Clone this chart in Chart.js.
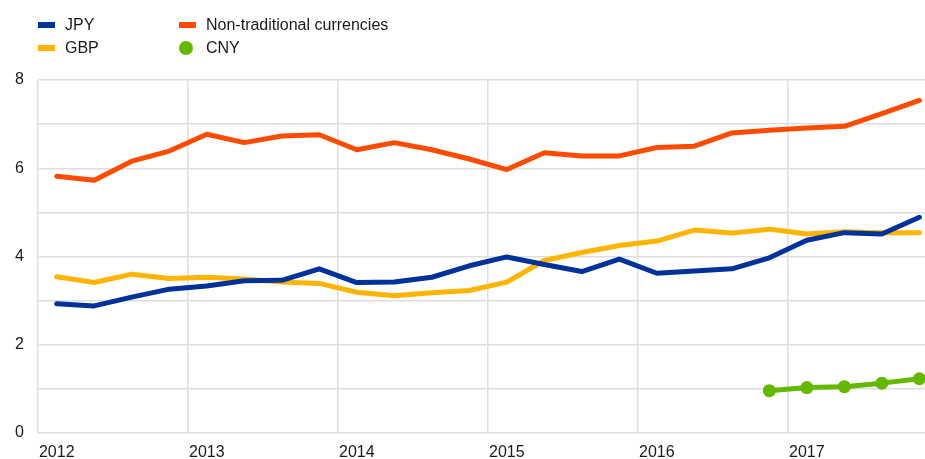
<!DOCTYPE html>
<html>
<head>
<meta charset="utf-8">
<script src="https://cdn.jsdelivr.net/npm/chart.js@4/dist/chart.umd.min.js"></script>
<style>
  html, body { margin: 0; padding: 0; background: #fff; overflow: hidden; }
  #wrap { position: relative; width: 925px; height: 459px; }
  canvas { position: absolute; left: 0; top: 0; }
  .lg { position: absolute; font-family: "Liberation Sans", Arial, sans-serif; font-size: 16px; line-height: 16px; color: #1a1a1a; white-space: nowrap; }
  .sw { position: absolute; width: 17px; height: 6px; }
  .dot { position: absolute; width: 14px; height: 14px; border-radius: 50%; }
</style>
</head>
<body>
<div id="wrap">
  <canvas id="c" width="925" height="459"></canvas>
  <div class="sw" style="left:38px;top:21.5px;background:#003299"></div>
  <div class="lg" style="left:65px;top:16.7px">JPY</div>
  <div class="sw" style="left:38px;top:44.5px;background:#FFB400"></div>
  <div class="lg" style="left:65px;top:39.7px">GBP</div>
  <div class="sw" style="left:179px;top:21.5px;background:#FF4B00"></div>
  <div class="lg" style="left:206px;top:16.7px">Non-traditional currencies</div>
  <div class="dot" style="left:179px;top:40.5px;background:#65B800"></div>
  <div class="lg" style="left:206px;top:39.7px">CNY</div>
</div>
<script>
// Quarterly categories 2012 Q1 – 2017 Q4
const quarters = [
  '2012 Q1','2012 Q2','2012 Q3','2012 Q4',
  '2013 Q1','2013 Q2','2013 Q3','2013 Q4',
  '2014 Q1','2014 Q2','2014 Q3','2014 Q4',
  '2015 Q1','2015 Q2','2015 Q3','2015 Q4',
  '2016 Q1','2016 Q2','2016 Q3','2016 Q4',
  '2017 Q1','2017 Q2','2017 Q3','2017 Q4'
];
const yearLabels = ['2012','2013','2014','2015','2016','2017'];
const yTickLabels = ['0','2','4','6','8'];

const jpy = [2.93,2.88,3.08,3.26,3.33,3.45,3.46,3.72,3.41,3.42,3.53,3.79,
             3.99,3.82,3.66,3.94,3.62,3.67,3.72,3.97,4.37,4.54,4.51,4.89];
const gbp = [3.54,3.41,3.60,3.50,3.53,3.49,3.42,3.39,3.19,3.11,3.18,3.23,
             3.42,3.91,4.09,4.25,4.35,4.60,4.53,4.62,4.51,4.56,4.54,4.54];
const nonTraditional = [5.82,5.73,6.16,6.39,6.77,6.58,6.73,6.76,6.42,6.58,6.42,6.21,
             5.97,6.35,6.28,6.28,6.47,6.50,6.80,6.86,6.91,6.95,7.24,7.54];
const cny = [null,null,null,null,null,null,null,null,null,null,null,null,
             null,null,null,null,null,null,null,0.96,1.03,1.05,1.13,1.23];

const toXY = arr => arr.map((v, i) => ({ x: i, y: v }));
const FONT = { family: '"Liberation Sans", Arial, sans-serif', size: 16 };
const XMIN = -0.5, XMAX = 23.15;

new Chart(document.getElementById('c'), {
  type: 'line',
  data: {
    labels: quarters,
    datasets: [
      { label: 'JPY', data: toXY(jpy), borderColor: '#003299', backgroundColor: '#003299' },
      { label: 'GBP', data: toXY(gbp), borderColor: '#FFB400', backgroundColor: '#FFB400' },
      { label: 'Non-traditional currencies', data: toXY(nonTraditional), borderColor: '#FF4B00', backgroundColor: '#FF4B00' },
      { label: 'CNY', data: toXY(cny), borderColor: '#65B800', backgroundColor: '#65B800',
        pointRadius: 6.5, pointBackgroundColor: '#65B800', pointBorderWidth: 0 }
    ]
  },
  options: {
    responsive: false,
    animation: false,
    events: [],
    layout: { autoPadding: false, padding: { top: 80, left: 0, right: 0, bottom: 0 } },
    elements: {
      line: { borderWidth: 5, tension: 0, borderCapStyle: 'round', borderJoinStyle: 'round', fill: false },
      point: { radius: 0 }
    },
    plugins: { legend: { display: false }, tooltip: { enabled: false } },
    scales: {
      x: {
        type: 'linear', min: XMIN, max: XMAX, position: 'bottom',
        border: { display: false },
        grid: { color: '#dedede', lineWidth: 1.5, drawTicks: false },
        ticks: { display: false },
        afterBuildTicks: s => { s.ticks = [-0.5, 3.5, 7.5, 11.5, 15.5, 19.5].map(v => ({ value: v })); },
        afterFit: s => { s.height = 0; }
      },
      x2: {
        type: 'linear', min: XMIN, max: XMAX, position: 'bottom',
        border: { display: false },
        grid: { display: false, drawTicks: false },
        ticks: { color: '#1a1a1a', font: FONT, padding: 10, maxRotation: 0, autoSkip: false,
                 callback: v => yearLabels[v / 4] },
        afterBuildTicks: s => { s.ticks = yearLabels.map((_, i) => ({ value: i * 4 })); },
        afterFit: s => { s.height = 26; }
      },
      y: {
        min: 0, max: 8,
        border: { display: false },
        grid: { color: '#dedede', lineWidth: 1.5, drawTicks: false },
        ticks: { stepSize: 1, color: '#1a1a1a', font: FONT, padding: 14,
                 callback: v => yTickLabels.includes(String(v)) ? String(v) : '' },
        afterFit: s => { s.width = 38; }
      }
    }
  }
});
</script>
</body>
</html>
